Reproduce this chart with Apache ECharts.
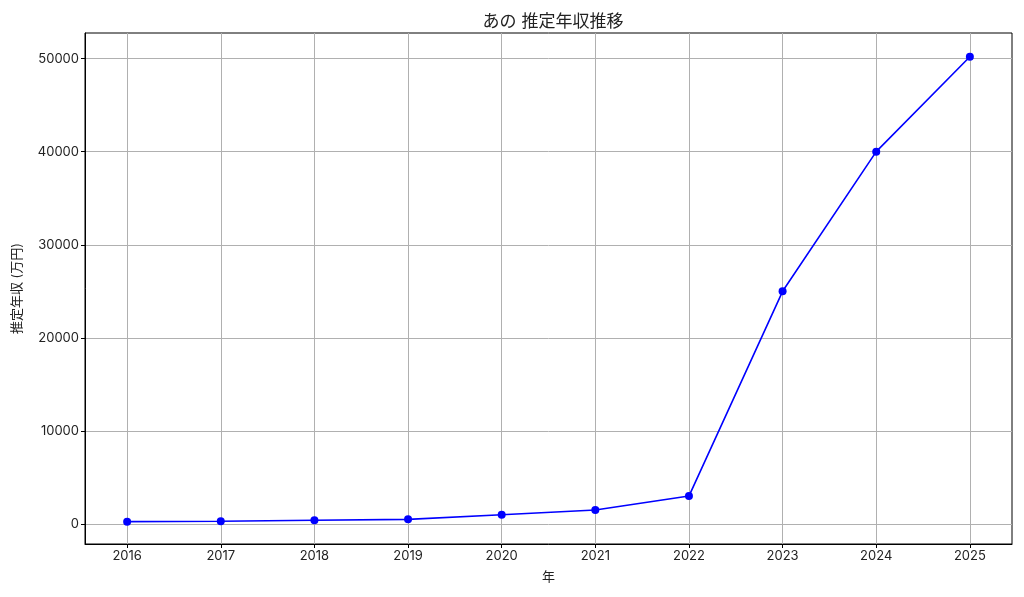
<!DOCTYPE html>
<html>
<head>
<meta charset="utf-8">
<script src="https://cdn.jsdelivr.net/npm/echarts@6/dist/echarts.min.js"></script>
<style>
  html, body { margin: 0; padding: 0; background: #fff; }
  #chart { width: 1024px; height: 597px; }
</style>
</head>
<body>
<div id="chart"></div>
<script>
  // 年ごとの推定年収 (万円)
  var years = [2016, 2017, 2018, 2019, 2020, 2021, 2022, 2023, 2024, 2025];
  var income = [250, 300, 400, 500, 1000, 1500, 3000, 25000, 40000, 50200];
  var yTicks = [0, 10000, 20000, 30000, 40000, 50000];

  var font = 'Inter, "Noto Sans CJK JP", sans-serif';
  var chart = echarts.init(document.getElementById('chart'));

  chart.setOption({
    animation: false,
    title: {
      text: 'あの 推定年収推移',
      left: 548, top: 8,
      textAlign: 'center',
      textStyle: { fontFamily: font, fontSize: 17, fontWeight: 'normal', color: '#222' }
    },
    grid: {
      left: 85, right: 12, top: 33, bottom: 53,
      outerBoundsMode: 'none',
      containLabel: false,
      show: true, borderColor: '#000', borderWidth: 1, backgroundColor: 'transparent'
    },
    xAxis: {
      type: 'value',
      min: 2015.55, max: 2025.45,
      name: '年',
      nameLocation: 'middle',
      nameGap: 27,
      nameTextStyle: { fontFamily: font, fontSize: 13, color: '#222' },
      axisLine: { show: true, onZero: false, lineStyle: { color: '#000', width: 1 } },
      axisTick: { show: true, length: 4, customValues: years, lineStyle: { color: '#000' } },
      axisLabel: { customValues: years, margin: 6, fontFamily: font, fontSize: 13, color: '#222', formatter: function (v) { return String(v); } },
      splitLine: { show: true, lineStyle: { color: '#b0b0b0', width: 1 } }
    },
    yAxis: {
      type: 'value',
      min: -2150, max: 52750,
      name: '推定年収 (万円)',
      nameLocation: 'middle',
      nameGap: 61,
      nameTextStyle: { fontFamily: font, fontSize: 13, color: '#222' },
      axisLine: { show: true, onZero: false, lineStyle: { color: '#000', width: 1 } },
      axisTick: { show: true, length: 4, customValues: yTicks, lineStyle: { color: '#000' } },
      axisLabel: { customValues: yTicks, margin: 6, fontFamily: font, fontSize: 13, color: '#222', formatter: function (v) { return String(v); } },
      splitLine: { show: true, lineStyle: { color: '#b0b0b0', width: 1 } }
    },
    series: [{
      type: 'line',
      data: years.map(function (y, i) { return [y, income[i]]; }),
      symbol: 'circle',
      symbolSize: 8,
      showSymbol: true,
      lineStyle: { color: '#0000ff', width: 1.6 },
      itemStyle: { color: '#0000ff' }
    }]
  });
</script>
</body>
</html>
